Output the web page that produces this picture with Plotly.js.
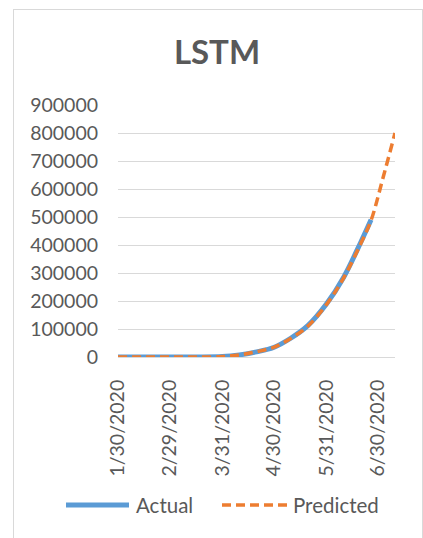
<!DOCTYPE html>
<html>
<head>
<meta charset="utf-8">
<script src="https://cdn.plot.ly/plotly-3.0.1.min.js"></script>
<style>
  html, body { margin: 0; padding: 0; background: #fff; }
  #wrap { position: relative; width: 423px; height: 538px; overflow: hidden; }
  #chart { position: absolute; left: 0; top: 0; width: 423px; height: 538px; }
  #frame { position: absolute; left: 13px; top: 9px; width: 408px; height: 540px;
           border: 1px solid #d9d9d9; pointer-events: none; }
</style>
</head>
<body>
<div id="wrap">
  <div id="chart"></div>
  <div id="frame"></div>
</div>
<script>
// Cumulative cases: observed series and LSTM forecast
const dates = ['2020-01-30', '2020-02-14', '2020-02-29', '2020-03-15', '2020-03-31',
               '2020-04-10', '2020-04-20', '2020-04-30', '2020-05-10', '2020-05-20',
               '2020-05-31', '2020-06-10', '2020-06-20', '2020-06-26', '2020-07-03',
               '2020-07-10'];
const actual = [1, 3, 3, 110, 1400, 7500, 18500, 34000, 67000, 112000,
                190000, 285000, 410000, 490000, null, null];
const predicted = [1, 3, 3, 120, 1500, 7600, 18700, 34500, 66000, 110000,
                   188000, 283000, 405000, 488000, 640000, 800000];

const tickDates = ['2020-01-30', '2020-02-29', '2020-03-31', '2020-04-30', '2020-05-31', '2020-06-30'];
const tickLabels = ['1/30/2020', '2/29/2020', '3/31/2020', '4/30/2020', '5/31/2020', '6/30/2020'];
const yTicks = [0, 100000, 200000, 300000, 400000, 500000, 600000, 700000, 800000, 900000];

const font = 'Lato, "Open Sans", sans-serif';
const grey = '#595959';
const blue = '#5b9bd5';
const orange = '#ed7d31';

// plot area in pixels
const L = 118, R = 395, T = 105, B = 357;
const px = x => (x - L) / (R - L);
const py = y => (B - y) / (B - T);

const traces = [
  {
    x: dates, y: actual, name: 'Actual', type: 'scatter', mode: 'lines',
    line: { color: blue, width: 5, shape: 'spline' }
  },
  {
    x: dates, y: predicted, name: 'Predicted', type: 'scatter', mode: 'lines',
    line: { color: orange, width: 3.5, dash: '9px,5px', shape: 'spline' }
  }
];

const legendY = py(505);

const layout = {
  width: 423, height: 538,
  margin: { l: L, r: 423 - R, t: T, b: 538 - B },
  paper_bgcolor: 'rgba(0,0,0,0)', plot_bgcolor: '#fff',
  font: { family: font, color: grey, size: 19.5 },
  title: {
    text: '<b>LSTM</b>',
    font: { family: font, size: 33, color: grey },
    x: 0.513, xanchor: 'center', y: 1 - 52 / 538, yanchor: 'middle'
  },
  xaxis: {
    type: 'date', automargin: false,
    range: ['2020-01-30', '2020-07-10'],
    tickmode: 'array', tickvals: tickDates, ticktext: tickLabels,
    tickangle: -90, ticks: '', showgrid: false,
    showline: true, linecolor: '#d9d9d9', linewidth: 1,
    zeroline: false, ticklabelstandoff: 14,
    tickfont: { family: font, size: 19.5, color: grey }
  },
  yaxis: {
    range: [0, 900000], automargin: false,
    tickmode: 'array', tickvals: yTicks, ticktext: yTicks.map(String),
    showgrid: true, gridcolor: '#d9d9d9', gridwidth: 1,
    zeroline: false, showline: false, ticks: '',
    ticklabelstandoff: 19,
    tickfont: { family: font, size: 19.5, color: grey }
  },
  showlegend: false,
  shapes: [
    { type: 'line', xref: 'paper', yref: 'paper', x0: px(66), x1: px(129), y0: legendY, y1: legendY,
      line: { color: blue, width: 5 } },
    { type: 'line', xref: 'paper', yref: 'paper', x0: px(222), x1: px(287), y0: legendY, y1: legendY,
      line: { color: orange, width: 3.5, dash: '9px,5px' } }
  ],
  annotations: [
    { text: 'Actual', xref: 'paper', yref: 'paper', x: px(134), y: legendY, xanchor: 'left', yanchor: 'middle',
      showarrow: false, font: { family: font, size: 20.5, color: grey } },
    { text: 'Predicted', xref: 'paper', yref: 'paper', x: px(291), y: legendY, xanchor: 'left', yanchor: 'middle',
      showarrow: false, font: { family: font, size: 20.5, color: grey } }
  ]
};

Plotly.newPlot('chart', traces, layout, { displayModeBar: false, staticPlot: true });
</script>
</body>
</html>
